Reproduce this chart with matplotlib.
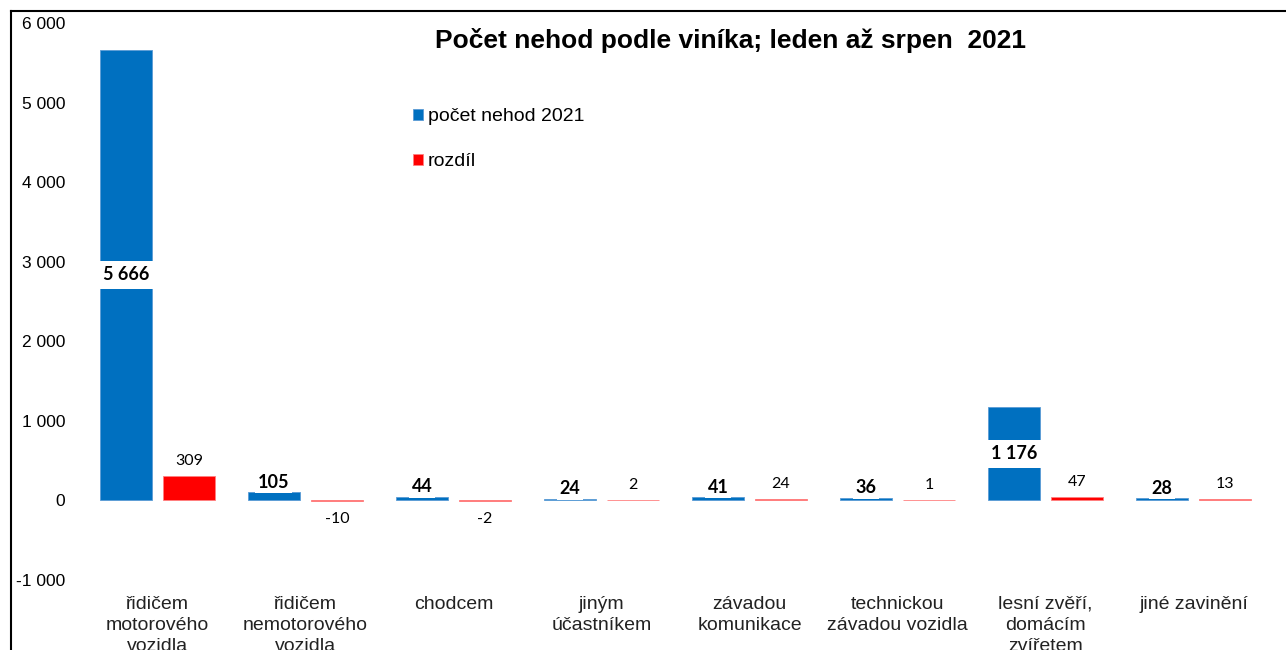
import matplotlib.pyplot as plt
from matplotlib.lines import Line2D
import numpy as np

# data
categories = ["řidičem\nmotorového\nvozidla", "řidičem\nnemotorového\nvozidla", "chodcem",
              "jiným\núčastníkem", "závadou\nkomunikace", "technickou\nzávadou vozidla",
              "lesní zvěří,\ndomácím\nzvířetem", "jiné zavinění"]
nehody_2021 = [5666, 105, 44, 24, 41, 36, 1176, 28]
rozdil = [309, -10, -2, 2, 24, 1, 47, 13]

blue = "#0070C0"
red = "#FF0000"

fig = plt.figure(figsize=(12.86, 6.5), dpi=100)
ax = fig.add_axes([0.0649, 0.1077, 0.9207, 0.857])

x = np.arange(len(categories))
w = 0.351
off = 0.213
b1 = ax.bar(x - off, nehody_2021, w, color=blue, edgecolor="#5b9bd5", linewidth=0.6, label="počet nehod 2021")
b2 = ax.bar(x + off, rozdil, w, color=red, edgecolor="#ff8080", linewidth=0.6, label="rozdíl")

ax.set_xlim(-0.5, len(categories) - 0.5)
ax.set_ylim(-1000, 6000)
ax.set_yticks(range(-1000, 6001, 1000))
ax.set_yticklabels([f"{v:,}".replace(",", " ") for v in range(-1000, 6001, 1000)],
                   fontsize=12.5, family="Liberation Sans")
ax.tick_params(axis="y", length=0, pad=13)
ax.set_xticks([])
for s in ax.spines.values():
    s.set_visible(False)

# category labels below plot
for xi, c in zip(x, categories):
    ax.text(xi, -1200, c, ha="center", va="top", fontsize=14, family="Liberation Sans",
            linespacing=1.33, color="#222222", clip_on=False)

# data labels
box = dict(facecolor="white", edgecolor="none", pad=2)
for xi, v in zip(x, nehody_2021):
    t = f"{v:,}".replace(",", " ")
    if v > 500:
        ax.text(xi - off, v / 2, t, ha="center", va="center", fontsize=13, fontweight="bold",
                family="Lato", bbox=dict(facecolor="white", edgecolor="none", pad=4))
    else:
        ax.annotate(t, (xi - off, v), xytext=(0, 10), textcoords="offset pixels",
                    ha="center", va="center", fontsize=13, fontweight="bold", family="Lato", bbox=box)
for xi, v in zip(x, rozdil):
    if v >= 0:
        ax.annotate(str(v), (xi + off, v), xytext=(0, 15), textcoords="offset pixels",
                    ha="center", va="center", fontsize=11.5, family="Lato")
    else:
        ax.annotate(str(v), (xi + off, v), xytext=(0, -18), textcoords="offset pixels",
                    ha="center", va="center", fontsize=11.5, family="Lato")

fig.text(0.5677, 0.938, "Počet nehod podle viníka; leden až srpen  2021", ha="center", va="center",
         fontsize=19, fontweight="bold", family="Liberation Sans")

fig.legend(handles=[b1, b2], loc="upper left", bbox_to_anchor=(413 / 1286, 1 - 108 / 650),
           frameon=False, prop={"family": "Liberation Sans", "size": 14},
           handlelength=0.5, handleheight=0.5, handletextpad=0.25, labelspacing=1.45,
           borderpad=0, borderaxespad=0)

# outer frame (cut off by the image)
fig.add_artist(Line2D([11 / 1286, 11 / 1286], [1 - 11 / 650, -0.1], color="black", lw=1.5))
fig.add_artist(Line2D([11 / 1286, 1.1], [1 - 11 / 650, 1 - 11 / 650], color="black", lw=1.5))

fig.savefig("out.png", dpi=100)
